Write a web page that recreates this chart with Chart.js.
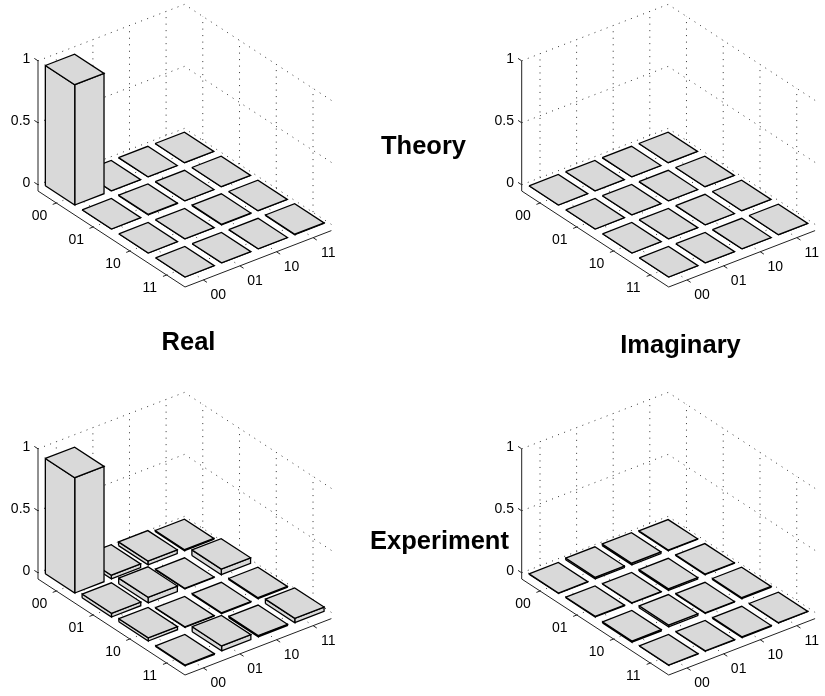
<!DOCTYPE html>
<html><head><meta charset="utf-8">
<style>html,body{margin:0;padding:0;background:#fff}canvas{display:block}</style>
<script src="https://cdn.jsdelivr.net/npm/chart.js@4"></script>
</head><body><canvas id="c" width="825" height="696"></canvas>
<script>
const tickLabels = ['00','01','10','11'];
const zTicks = [0, 0.5, 1];
const zTickLabels = ['0','0.5','1'];
const theoryReal = [[0.97,0,0,0],[0,0.004,0,0],[0,0,0.004,0],[0,0,0,0.004]];
const theoryImag = [[0,0,0,0],[0,0,0,0],[0,0,0,0],[0,0,0,0]];
const expReal = [[0.93,0.03,0.03,0.008],[0.03,0.045,0.004,0.045],[0.025,-0.004,-0.006,0.008],[-0.006,0.04,0.01,0.035]];
const expImag = [[-0.003,0.013,0.013,0.005],[0.005,-0.003,-0.012,0.005],[-0.01,0.015,-0.004,0.008],[-0.002,-0.003,-0.006,-0.002]];
const panelTitles = [['Theory',423.5,147],['Real',188.5,343],['Imaginary',680.5,346],['Experiment',439.5,542]];

const view = {ax:36.75, ay:24, bx:36.6, by:-14.1, zs:124, zFloor:-0.05, width:0.8};
const panels = [
  {data:theoryReal, ox:38,    oy:191},
  {data:theoryImag, ox:521.7, oy:191},
  {data:expReal,    ox:38,    oy:579},
  {data:expImag,    ox:521.7, oy:579}
];
const INK = '#000', AXIS = '#222', FILL = '#d9d9d9';

function project(p, a, b, z){
  return {x:p.ox + a*view.ax + b*view.bx, y:p.oy + a*view.ay + b*view.by - (z-view.zFloor)*view.zs};
}
const sets = [];
function addLine(pts, style){
  sets.push(Object.assign({data:pts, showLine:true, pointRadius:0, borderColor:INK, borderWidth:1, fill:false, tension:0, clip:false, borderJoinStyle:'miter'}, style));
}
function addFace(pts){
  addLine(pts.concat([pts[0]]), {fill:'shape', backgroundColor:FILL, borderColor:INK, borderWidth:1.3});
}
const dotted = {borderColor:'#333', borderWidth:1, borderDash:[1,5.5]};
panels.forEach(p=>{
  const zf = view.zFloor;
  zTicks.forEach(z=>{
    addLine([project(p,0,0,z),project(p,0,4,z),project(p,4,4,z)], dotted);
  });
  for(let i=0;i<4;i++){
    const t=i+0.5;
    addLine([project(p,0,t,zf),project(p,0,t,1)], dotted);
    addLine([project(p,t,4,zf),project(p,t,4,1)], dotted);
    addLine([project(p,t,0,zf),project(p,t,4,zf)], dotted);
    addLine([project(p,0,t,zf),project(p,4,t,zf)], dotted);
  }
  const axis={borderColor:AXIS, borderWidth:1};
  addLine([project(p,0,0,zf),project(p,0,0,1)], axis);
  addLine([project(p,0,0,zf),project(p,4,0,zf)], axis);
  addLine([project(p,4,0,zf),project(p,4,4,zf)], axis);
  zTicks.forEach(z=>addLine([project(p,0,0,z),project(p,-0.1,0,z)], axis));
  for(let i=0;i<4;i++){
    const t=i+0.5;
    addLine([project(p,t,0,zf),project(p,t,-0.1,zf)], axis);
    addLine([project(p,4,t,zf),project(p,4.1,t,zf)], axis);
  }
  const cells=[];
  p.data.forEach((row,i)=>row.forEach((v,j)=>cells.push({i,j,v})));
  cells.sort((c,d)=>(c.i-c.j)-(d.i-d.j));
  const h=view.width/2;
  cells.forEach(c=>{
    const a0=c.i+0.5-h,a1=c.i+0.5+h,b0=c.j+0.5-h,b1=c.j+0.5+h;
    const top=Math.max(c.v,0),bot=Math.min(c.v,0);
    addFace([project(p,a1,b0,bot),project(p,a1,b1,bot),project(p,a1,b1,top),project(p,a1,b0,top)]);
    addFace([project(p,a0,b0,bot),project(p,a1,b0,bot),project(p,a1,b0,top),project(p,a0,b0,top)]);
    addFace([project(p,a0,b0,top),project(p,a1,b0,top),project(p,a1,b1,top),project(p,a0,b1,top)]);
  });
});
sets.forEach((s,i)=>{s.order = sets.length - i;});

const textPlugin = {
  id:'panelText',
  afterDraw(chart){
    const {ctx,scales:{x,y}} = chart;
    ctx.save();
    ctx.fillStyle='#000';
    ctx.textBaseline='middle';
    ctx.font='14px "Liberation Sans", Arial, sans-serif';
    panels.forEach(p=>{
      ctx.textAlign='right';
      zTicks.forEach((z,k)=>{
        const q=project(p,-0.1,0,z);
        ctx.fillText(zTickLabels[k], x.getPixelForValue(q.x)-4, y.getPixelForValue(q.y)+0.5);
      });
      ctx.textAlign='center';
      tickLabels.forEach((lab,i)=>{
        const q=project(p,i+0.5,-0.6,view.zFloor);
        ctx.fillText(lab, x.getPixelForValue(q.x)+5, y.getPixelForValue(q.y)+5);
        const r=project(p,4.6,i+0.5,view.zFloor);
        ctx.fillText(lab, x.getPixelForValue(r.x)-7, y.getPixelForValue(r.y)+1);
      });
    });
    ctx.font='bold 25.5px "Liberation Sans", Arial, sans-serif';
    panelTitles.forEach(t=>ctx.fillText(t[0], x.getPixelForValue(t[1]), y.getPixelForValue(t[2])));
    ctx.restore();
  }
};

new Chart(document.getElementById('c'),{
  type:'scatter',
  data:{datasets:sets},
  options:{
    responsive:false, animation:false,
    layout:{padding:0},
    plugins:{legend:{display:false},tooltip:{enabled:false},title:{display:false}},
    scales:{
      x:{type:'linear',min:0,max:825,display:false},
      y:{type:'linear',min:0,max:696,reverse:true,display:false}
    }
  },
  plugins:[textPlugin]
});
</script></body></html>
